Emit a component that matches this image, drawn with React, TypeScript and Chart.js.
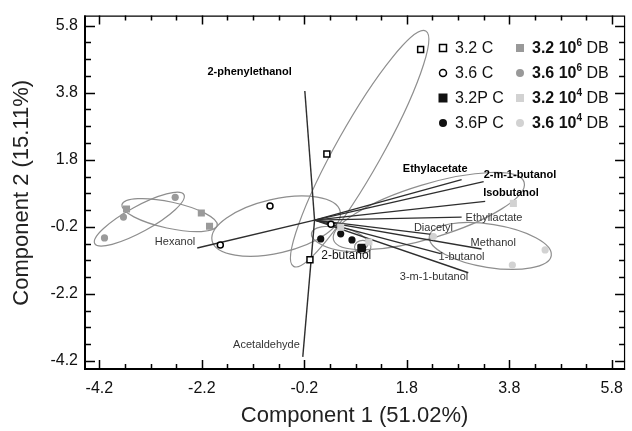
import React, { useEffect, useRef } from 'react';
import { Chart, registerables } from 'chart.js';
Chart.register(...registerables);

// ---- tick labels ----
const xTickLabels = ['-4.2', '-2.2', '-0.2', '1.8', '3.8', '5.8'];
const yTickLabels = ['-4.2', '-2.2', '-0.2', '1.8', '3.8', '5.8'];
const xTitle = 'Component 1 (51.02%)';
const yTitle = 'Component 2 (15.11%)';

// ---- sample scores ----
const c32X = [2.07, 0.24, -0.09];
const c32Y = [5.09, 1.97, -1.18];
const c36X = [-1.84, -0.87, 0.32];
const c36Y = [-0.74, 0.42, -0.12];
const p32X = [0.92, 0.93, 0.91];
const p32Y = [-0.83, -0.82, -0.84];
const p36X = [0.12, 0.51, 0.73];
const p36Y = [-0.56, -0.41, -0.59];
const db326X = [-3.67, -2.21, -2.05];
const db326Y = [0.33, 0.21, -0.18];
const db366X = [-4.1, -3.73, -2.72];
const db366Y = [-0.53, 0.09, 0.68];
const db324X = [0.51, 1.06, 3.88];
const db324Y = [-0.21, -0.65, 0.5];
const db364X = [2.32, 4.5, 3.86];
const db364Y = [-0.49, -0.89, -1.34];

// ---- confidence ellipses (centre, major semi-axis vector, minor/major ratio) ----
const ellipseCx = [-3.42, -2.83, -0.75, 0.88, 2.23, 3.43, 0.49, 0.94];
const ellipseCy = [0.03, 0.15, -0.18, 2.13, 0.27, -0.77, -0.56, -0.8];
const ellipseAx = [0.87, 0.93, 1.25, 1.29, 1.86, 1.19, 0.55, 0.16];
const ellipseAy = [0.73, -0.31, 0.44, 3.51, 0.86, -0.29, -0.17, 0.0];
const ellipseRatio = [0.25, 0.27, 0.41, 0.17, 0.27, 0.35, 0.4, 0.8];

// ---- loading vectors ----
const vectorNames = ['2-phenylethanol', 'Acetaldehyde', 'Hexanol', 'Ethylacetate', '2-m-1-butanol', 'Isobutanol', 'Ethyllactate', 'Diacetyl', 'Methanol', '1-butanol', '3-m-1-butanol'];
const vectorX = [-0.19, -0.23, -2.29, 2.87, 3.3, 3.33, 2.87, 2.36, 3.26, 2.46, 3.0];
const vectorY = [3.85, -4.08, -0.83, 1.21, 1.15, 0.56, 0.09, -0.44, -0.86, -1.0, -1.57];
const freeLabelNames = ['2-butanol'];
const freeLabelX = [0.13];
const freeLabelY = [-1.06];

// label layout (pixel offsets from vector tip)
const vectorLabelLayout = [
  { dx: -13, dy: -19, align: 'right', bold: true },
  { dx: -3, dy: -12, align: 'right', bold: false },
  { dx: -2, dy: -6, align: 'right', bold: false },
  { dx: 6, dy: -11, align: 'right', bold: true },
  { dx: 0, dy: -7, align: 'left', bold: true },
  { dx: -2, dy: -8, align: 'left', bold: true },
  { dx: 4, dy: 1, align: 'left', bold: false },
  { dx: -2, dy: -7, align: 'center', bold: false },
  { dx: -11, dy: -6, align: 'left', bold: false },
  { dx: -2, dy: 3, align: 'left', bold: false },
  { dx: 0, dy: 4, align: 'right', bold: false },
];

const FONT = "'Liberation Sans', Arial, Helvetica, sans-serif";

function buildTicks(labels: string[]) {
  const majors = labels.map(Number);
  const out: number[] = [];
  majors.forEach((m, i) => {
    out.push(m);
    if (i < majors.length - 1) {
      for (let k = 1; k < 4; k++) out.push(+(m + 0.5 * k).toFixed(3));
    }
  });
  return out;
}
function labelFor(labels: string[], value: number) {
  const idx = labels.findIndex((l) => Math.abs(Number(l) - value) < 1e-6);
  return idx >= 0 ? labels[idx] : '';
}
function isMajor(labels: string[], value: number) {
  return labels.some((l) => Math.abs(Number(l) - value) < 1e-6);
}
function pts(xs: number[], ys: number[]) {
  return xs.map((x, i) => ({ x, y: ys[i] }));
}

const legendItems = [
  { col: 0, row: 0, style: 'rect', fill: '#fff', stroke: '#000', size: 7, parts: [{ t: '3.2 C' }] },
  { col: 0, row: 1, style: 'circle', fill: '#fff', stroke: '#000', size: 7, parts: [{ t: '3.6 C' }] },
  { col: 0, row: 2, style: 'rect', fill: '#111', stroke: '#111', size: 9, parts: [{ t: '3.2P C' }] },
  { col: 0, row: 3, style: 'circle', fill: '#111', stroke: '#111', size: 8, parts: [{ t: '3.6P C' }] },
  { col: 1, row: 0, style: 'rect', fill: '#999', stroke: '#999', size: 8, parts: [{ t: '3.2 10', b: true }, { t: '6', b: true, sup: true }, { t: ' DB' }] },
  { col: 1, row: 1, style: 'circle', fill: '#999', stroke: '#999', size: 8, parts: [{ t: '3.6 10', b: true }, { t: '6', b: true, sup: true }, { t: ' DB' }] },
  { col: 1, row: 2, style: 'rect', fill: '#d2d2d2', stroke: '#d2d2d2', size: 8, parts: [{ t: '3.2 10', b: true }, { t: '4', b: true, sup: true }, { t: ' DB' }] },
  { col: 1, row: 3, style: 'circle', fill: '#d2d2d2', stroke: '#d2d2d2', size: 8, parts: [{ t: '3.6 10', b: true }, { t: '4', b: true, sup: true }, { t: ' DB' }] },
];

const decorPlugin = {
  id: 'decor',
  beforeDatasetsDraw(chart: any) {
    const { ctx, scales } = chart;
    const x = scales.x, y = scales.y;
    ctx.save();
    ctx.strokeStyle = '#8e8e8e';
    ctx.lineWidth = 1.2;
    for (let i = 0; i < ellipseCx.length; i++) {
      const cx = x.getPixelForValue(ellipseCx[i]);
      const cy = y.getPixelForValue(ellipseCy[i]);
      const ex = x.getPixelForValue(ellipseCx[i] + ellipseAx[i]) - cx;
      const ey = y.getPixelForValue(ellipseCy[i] + ellipseAy[i]) - cy;
      const L = Math.hypot(ex, ey);
      const ang = Math.atan2(ey, ex);
      ctx.beginPath();
      ctx.ellipse(cx, cy, L, L * ellipseRatio[i], ang, 0, Math.PI * 2);
      ctx.stroke();
    }
    ctx.restore();
  },
  afterDatasetsDraw(chart: any) {
    const { ctx, scales, chartArea } = chart;
    const x = scales.x, y = scales.y;
    ctx.save();
    // vector labels
    ctx.textBaseline = 'middle';
    vectorNames.forEach((name, i) => {
      const L = vectorLabelLayout[i];
      const px = x.getPixelForValue(vectorX[i]) + L.dx;
      const py = y.getPixelForValue(vectorY[i]) + L.dy;
      ctx.font = `${L.bold ? 'bold ' : ''}11px ${FONT}`;
      ctx.fillStyle = L.bold ? '#000' : '#333';
      ctx.textAlign = L.align;
      ctx.fillText(name, px, py);
    });
    freeLabelNames.forEach((name, i) => {
      ctx.font = `12px ${FONT}`;
      ctx.fillStyle = '#111';
      ctx.textAlign = 'left';
      ctx.fillText(name, x.getPixelForValue(freeLabelX[i]), y.getPixelForValue(freeLabelY[i]));
    });

    // frame
    const { left, right, top, bottom } = chartArea;
    ctx.strokeStyle = '#000';
    ctx.lineWidth = 1.2;
    ctx.beginPath();
    ctx.moveTo(left, top + 0.5);
    ctx.lineTo(right - 0.5, top + 0.5);
    ctx.lineTo(right - 0.5, bottom);
    ctx.stroke();
    ctx.lineWidth = 2;
    ctx.beginPath();
    ctx.moveTo(left + 1, top);
    ctx.lineTo(left + 1, bottom - 1);
    ctx.lineTo(right, bottom - 1);
    ctx.stroke();
    // ticks
    ctx.lineWidth = 1.5;
    x.ticks.forEach((t: any) => {
      const px = Math.round(x.getPixelForValue(t.value)) + 0.5;
      const len = isMajor(xTickLabels, t.value) ? 9 : 5;
      ctx.beginPath();
      ctx.moveTo(px, bottom - 1);
      ctx.lineTo(px, bottom - 1 - len);
      ctx.moveTo(px, top);
      ctx.lineTo(px, top + len);
      ctx.stroke();
    });
    y.ticks.forEach((t: any) => {
      const py = Math.round(y.getPixelForValue(t.value)) + 0.5;
      const len = isMajor(yTickLabels, t.value) ? 10 : 6;
      ctx.beginPath();
      ctx.moveTo(left + 1, py);
      ctx.lineTo(left + 1 + len, py);
      ctx.moveTo(right, py);
      ctx.lineTo(right - len, py);
      ctx.stroke();
    });

    // legend
    const colMarkerX = [443, 520];
    const rowY = [48, 73, 98, 123];
    legendItems.forEach((it) => {
      const mx = colMarkerX[it.col];
      const my = rowY[it.row];
      ctx.fillStyle = it.fill;
      ctx.strokeStyle = it.stroke;
      ctx.lineWidth = 1.5;
      ctx.beginPath();
      if (it.style === 'rect') {
        ctx.rect(mx - it.size / 2, my - it.size / 2, it.size, it.size);
      } else {
        ctx.arc(mx, my, it.size / 2, 0, Math.PI * 2);
      }
      ctx.fill();
      if (it.fill === '#fff') ctx.stroke();
      let tx = mx + 12;
      ctx.textAlign = 'left';
      ctx.fillStyle = '#111';
      it.parts.forEach((p: any) => {
        if (p.sup) {
          ctx.font = `${p.b ? 'bold ' : ''}10px ${FONT}`;
          ctx.textBaseline = 'middle';
          ctx.fillText(p.t, tx, my - 5);
        } else {
          ctx.font = `${p.b ? 'bold ' : ''}16px ${FONT}`;
          ctx.textBaseline = 'middle';
          ctx.fillText(p.t, tx, my + 1);
        }
        tx += ctx.measureText(p.t).width;
      });
    });
    ctx.restore();
  },
};

export default function App() {
  const ref = useRef<HTMLCanvasElement | null>(null);
  useEffect(() => {
    if (!ref.current) return;
    const pointDs = (data: any, style: string, radius: number, bg: string, border: string, bw: number) => ({
      data,
      pointStyle: style,
      pointRadius: radius,
      pointBackgroundColor: bg,
      pointBorderColor: border,
      pointBorderWidth: bw,
      showLine: false,
      order: 0,
    });
    const datasets: any[] = [
      ...vectorNames.map((n, i) => ({
        label: n,
        data: [{ x: 0, y: 0 }, { x: vectorX[i], y: vectorY[i] }],
        showLine: true,
        borderColor: '#2e2e2e',
        borderWidth: 1.4,
        pointRadius: 0,
        order: 10,
      })),
      pointDs(pts(db326X, db326Y), 'rect', 5, '#9a9a9a', '#9a9a9a', 0),
      pointDs(pts(db366X, db366Y), 'circle', 3.6, '#9a9a9a', '#9a9a9a', 0),
      pointDs(pts(db324X, db324Y), 'rect', 5, '#d2d2d2', '#d2d2d2', 0),
      pointDs(pts(db364X, db364Y), 'circle', 3.6, '#d2d2d2', '#d2d2d2', 0),
      pointDs(pts(p32X, p32Y), 'rect', 5.5, '#111', '#111', 0),
      pointDs(pts(p36X, p36Y), 'circle', 3.6, '#111', '#111', 0),
      pointDs(pts(c32X, c32Y), 'rect', 4.2, '#fff', '#000', 1.5),
      pointDs(pts(c36X, c36Y), 'circle', 3, '#fff', '#000', 1.5),
    ];
    const tickFont = { family: FONT, size: 16 };
    const chart = new Chart(ref.current, {
      type: 'scatter',
      data: { datasets },
      options: {
        animation: false,
        responsive: false,
        layout: { padding: { top: 13, right: 5, left: 0, bottom: 0 } },
        plugins: { legend: { display: false }, tooltip: { enabled: false } },
        scales: {
          x: {
            type: 'linear',
            min: -4.5,
            max: 6.06,
            grid: { display: false, drawTicks: false },
            border: { display: false },
            afterBuildTicks: (s: any) => {
              s.ticks = buildTicks(xTickLabels).map((v) => ({ value: v }));
            },
            afterFit: (s: any) => {
              s.height = 61;
            },
            ticks: {
              autoSkip: false,
              maxRotation: 0,
              padding: 9,
              color: '#111',
              font: tickFont,
              callback: (v: any) => labelFor(xTickLabels, Number(v)),
            },
            title: { display: true, text: xTitle, color: '#222', font: { family: FONT, size: 22 }, padding: { top: 0, bottom: 2 } },
          },
          y: {
            type: 'linear',
            min: -4.47,
            max: 6.1,
            grid: { display: false, drawTicks: false },
            border: { display: false },
            afterBuildTicks: (s: any) => {
              s.ticks = buildTicks(yTickLabels).map((v) => ({ value: v }));
            },
            afterFit: (s: any) => {
              s.width = 84;
            },
            ticks: {
              autoSkip: false,
              padding: 6,
              color: '#111',
              font: tickFont,
              callback: (v: any) => labelFor(yTickLabels, Number(v)),
            },
            title: { display: true, text: yTitle, color: '#222', font: { family: FONT, size: 22 }, padding: { top: 9, bottom: 0 } },
          },
        },
      },
      plugins: [decorPlugin],
    } as any);
    return () => chart.destroy();
  }, []);
  return (
    <div style={{ position: 'fixed', left: 0, top: 0, width: 632, height: 431, background: '#fff' }}>
      <canvas ref={ref} width={632} height={431} style={{ width: 632, height: 431, display: 'block' }} />
    </div>
  );
}
